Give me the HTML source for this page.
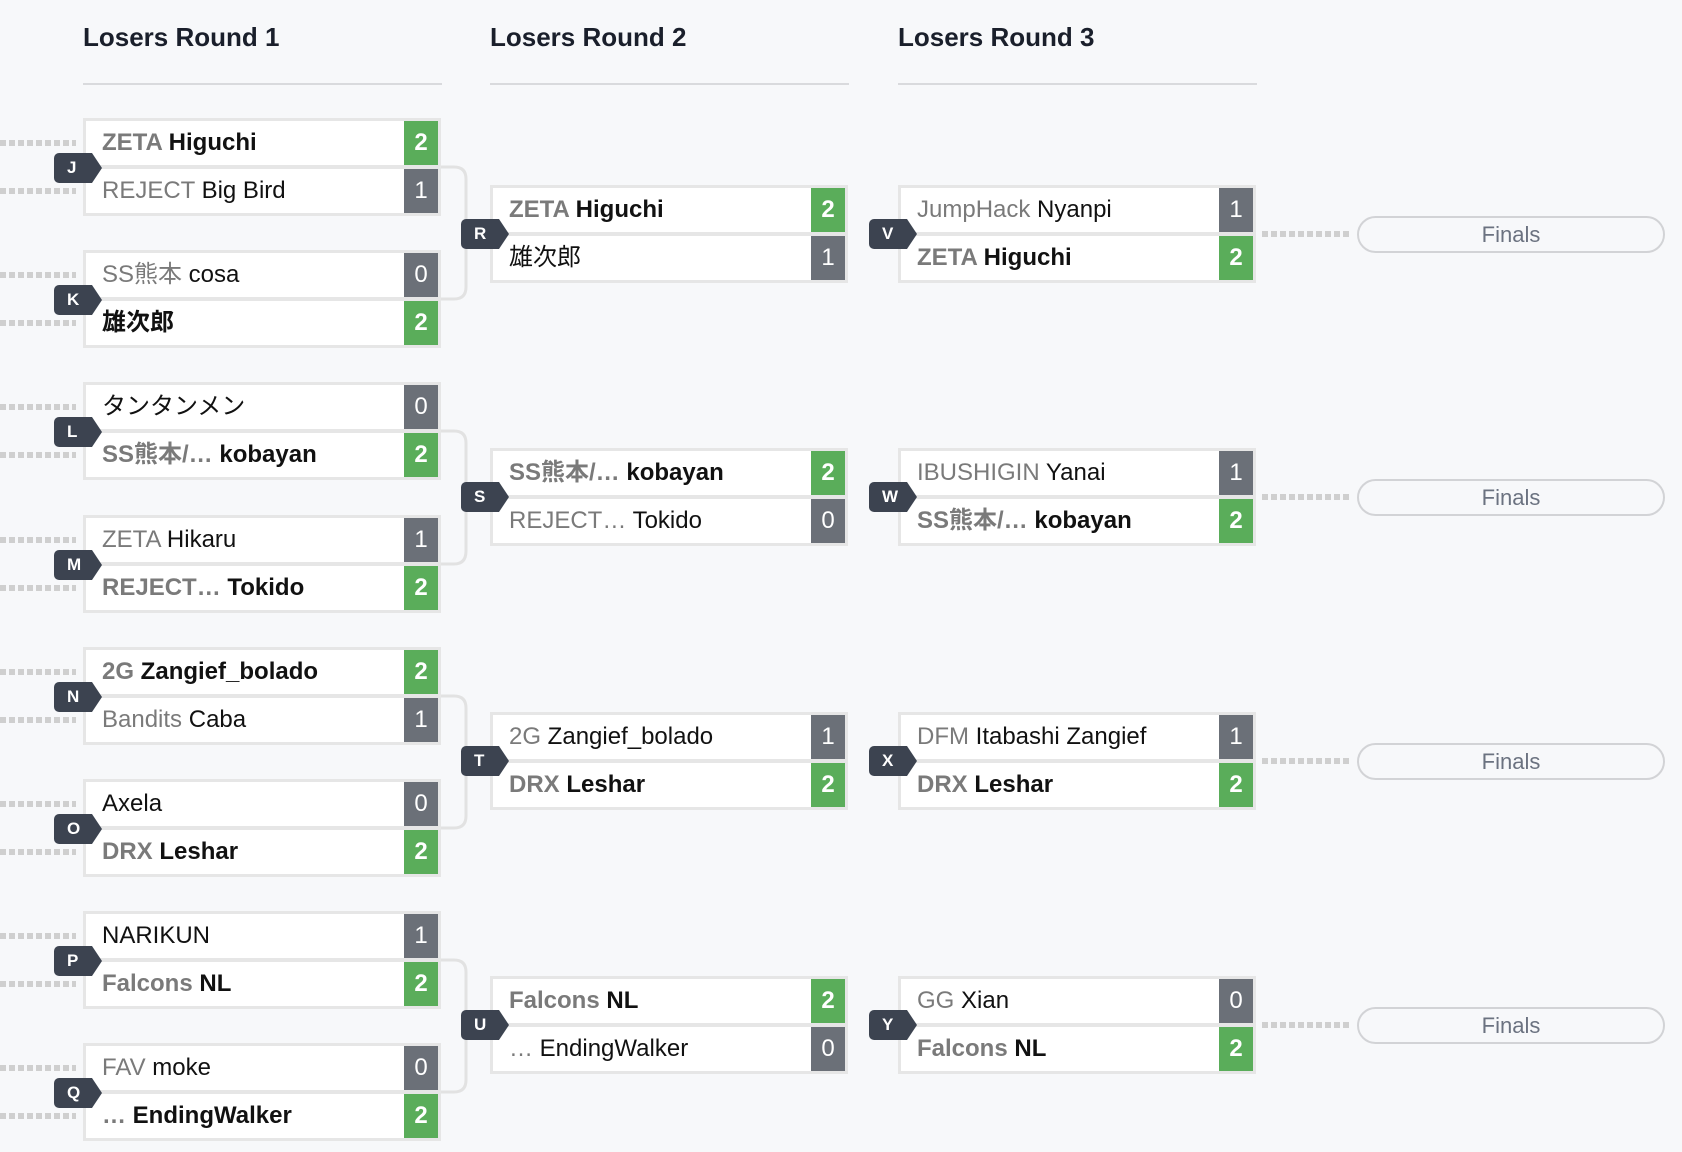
<!DOCTYPE html>
<html><head><meta charset="utf-8"><style>
*{box-sizing:border-box;margin:0;padding:0}
body{width:1682px;height:1152px;background:#f7f8fa;position:relative;overflow:hidden;font-family:"Liberation Sans","Noto Sans CJK JP",sans-serif}
.h{position:absolute;top:22px;font-size:26px;font-weight:bold;color:#1a1f2b}
.u{position:absolute;top:83px;height:2px;width:359px;background:#d9dadd}
.m{position:absolute;width:358px;height:98px;background:#e6e6e6;padding:3px}
.r{position:relative;height:44px;background:#fff;font-size:24px;line-height:44px;padding-left:16px;color:#111;white-space:nowrap}
.r+.r{margin-top:4px}
.p{color:#7a7a7a}
.w{font-weight:bold}
.s{position:absolute;right:0;top:0;width:34px;height:44px;background:#6b7078;color:#fff;text-align:center;font-size:24px}
.w .s{background:#5aad5a}
.b{position:absolute;width:48px;height:30px;background:#3c4350;color:#fff;font-weight:bold;font-size:17px;line-height:30px;padding-left:13px;border-radius:5px 0 0 5px;clip-path:polygon(0 0,38px 0,48px 50%,38px 100%,0 100%)}
.f{position:absolute;left:1357px;width:308px;height:37px;border:2px solid #d2d3d6;border-radius:20px;text-align:center;font-size:22px;line-height:33px;color:#6b7280}
svg{position:absolute;left:0;top:0}
</style></head><body>
<svg width="1682" height="1152">
<g stroke="#e2e2e2" stroke-width="3" fill="none">
<path d="M441 167H454Q466 167 466 179V287Q466 299 454 299H441"/>
<path d="M441 431H454Q466 431 466 443V551Q466 564 454 564H441"/>
<path d="M441 696H454Q466 696 466 708V816Q466 828 454 828H441"/>
<path d="M441 960H454Q466 960 466 972V1080Q466 1092 454 1092H441"/>
</g>
<g stroke="#cfcfcf" stroke-width="6" stroke-dasharray="6 3">
<path d="M0 143H76M0 191H76M0 275H76M0 323H76M0 407H76M0 455H76M0 540H76M0 588H76M0 672H76M0 720H76M0 804H76M0 852H76M0 936H76M0 984H76M0 1068H76M0 1116H76"/>
<path d="M1262 234H1352M1262 497H1352M1262 761H1352M1262 1025H1352"/>
</g>
</svg>
<div class="h" style="left:83px">Losers Round 1</div><div class="u" style="left:83px"></div>
<div class="h" style="left:490px">Losers Round 2</div><div class="u" style="left:490px"></div>
<div class="h" style="left:898px">Losers Round 3</div><div class="u" style="left:898px"></div>

<div class="m" style="left:83px;top:118px"><div class="r w"><span class="p">ZETA</span> Higuchi<div class="s">2</div></div><div class="r"><span class="p">REJECT</span> Big Bird<div class="s">1</div></div></div>
<div class="m" style="left:83px;top:250px"><div class="r"><span class="p">SS熊本</span> cosa<div class="s">0</div></div><div class="r w">雄次郎<div class="s">2</div></div></div>
<div class="m" style="left:83px;top:382px"><div class="r">タンタンメン<div class="s">0</div></div><div class="r w"><span class="p">SS熊本/…</span> kobayan<div class="s">2</div></div></div>
<div class="m" style="left:83px;top:515px"><div class="r"><span class="p">ZETA</span> Hikaru<div class="s">1</div></div><div class="r w"><span class="p">REJECT…</span> Tokido<div class="s">2</div></div></div>
<div class="m" style="left:83px;top:647px"><div class="r w"><span class="p">2G</span> Zangief_bolado<div class="s">2</div></div><div class="r"><span class="p">Bandits</span> Caba<div class="s">1</div></div></div>
<div class="m" style="left:83px;top:779px"><div class="r">Axela<div class="s">0</div></div><div class="r w"><span class="p">DRX</span> Leshar<div class="s">2</div></div></div>
<div class="m" style="left:83px;top:911px"><div class="r">NARIKUN<div class="s">1</div></div><div class="r w"><span class="p">Falcons</span> NL<div class="s">2</div></div></div>
<div class="m" style="left:83px;top:1043px"><div class="r"><span class="p">FAV</span> moke<div class="s">0</div></div><div class="r w"><span class="p">…</span> EndingWalker<div class="s">2</div></div></div>

<div class="m" style="left:490px;top:185px"><div class="r w"><span class="p">ZETA</span> Higuchi<div class="s">2</div></div><div class="r">雄次郎<div class="s">1</div></div></div>
<div class="m" style="left:490px;top:448px"><div class="r w"><span class="p">SS熊本/…</span> kobayan<div class="s">2</div></div><div class="r"><span class="p">REJECT…</span> Tokido<div class="s">0</div></div></div>
<div class="m" style="left:490px;top:712px"><div class="r"><span class="p">2G</span> Zangief_bolado<div class="s">1</div></div><div class="r w"><span class="p">DRX</span> Leshar<div class="s">2</div></div></div>
<div class="m" style="left:490px;top:976px"><div class="r w"><span class="p">Falcons</span> NL<div class="s">2</div></div><div class="r"><span class="p">…</span> EndingWalker<div class="s">0</div></div></div>

<div class="m" style="left:898px;top:185px"><div class="r"><span class="p">JumpHack</span> Nyanpi<div class="s">1</div></div><div class="r w"><span class="p">ZETA</span> Higuchi<div class="s">2</div></div></div>
<div class="m" style="left:898px;top:448px"><div class="r"><span class="p">IBUSHIGIN</span> Yanai<div class="s">1</div></div><div class="r w"><span class="p">SS熊本/…</span> kobayan<div class="s">2</div></div></div>
<div class="m" style="left:898px;top:712px"><div class="r"><span class="p">DFM</span> Itabashi Zangief<div class="s">1</div></div><div class="r w"><span class="p">DRX</span> Leshar<div class="s">2</div></div></div>
<div class="m" style="left:898px;top:976px"><div class="r"><span class="p">GG</span> Xian<div class="s">0</div></div><div class="r w"><span class="p">Falcons</span> NL<div class="s">2</div></div></div>

<div class="b" style="left:54px;top:153px">J</div>
<div class="b" style="left:54px;top:285px">K</div>
<div class="b" style="left:54px;top:417px">L</div>
<div class="b" style="left:54px;top:550px">M</div>
<div class="b" style="left:54px;top:682px">N</div>
<div class="b" style="left:54px;top:814px">O</div>
<div class="b" style="left:54px;top:946px">P</div>
<div class="b" style="left:54px;top:1078px">Q</div>
<div class="b" style="left:461px;top:219px">R</div>
<div class="b" style="left:461px;top:482px">S</div>
<div class="b" style="left:461px;top:746px">T</div>
<div class="b" style="left:461px;top:1010px">U</div>
<div class="b" style="left:869px;top:219px">V</div>
<div class="b" style="left:869px;top:482px">W</div>
<div class="b" style="left:869px;top:746px">X</div>
<div class="b" style="left:869px;top:1010px">Y</div>

<div class="f" style="top:216px">Finals</div>
<div class="f" style="top:479px">Finals</div>
<div class="f" style="top:743px">Finals</div>
<div class="f" style="top:1007px">Finals</div>
</body></html>
